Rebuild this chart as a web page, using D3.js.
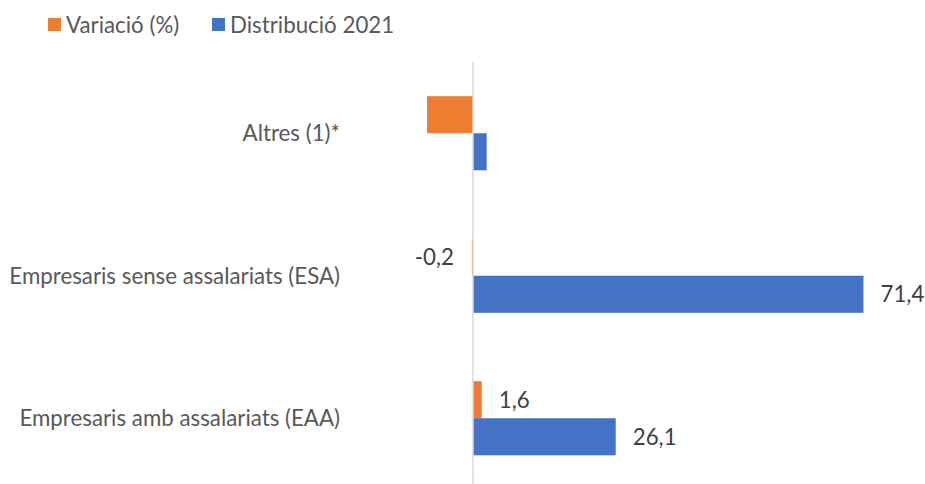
<!DOCTYPE html>
<html>
<head>
<meta charset="utf-8">
<script src="https://cdn.jsdelivr.net/npm/d3@7"></script>
<style>
  body { margin: 0; background: #fff; }
  svg { display: block; font-family: Lato, "Open Sans", sans-serif; }
</style>
</head>
<body>
<svg id="chart" width="925" height="484"></svg>
<script>
'use strict';

// data
var categories = ["Altres (1)*", "Empresaris sense assalariats (ESA)", "Empresaris amb assalariats (EAA)"];
var seriesNames = ["Variació (%)", "Distribució 2021"];
var variacio = [-8.4, -0.2, 1.6];
var distribucio = [2.5, 71.4, 26.1];
var variacioLabels = [null, "-0,2", "1,6"];
var distribucioLabels = [null, "71,4", "26,1"];
var colors = ["#ED7D31", "#4472C4"];

var svg = d3.select('#chart');

var rows = categories.map(function(c, i) {
  return {
    name: c,
    values: [
      { s: 0, v: variacio[i], label: variacioLabels[i] },
      { s: 1, v: distribucio[i], label: distribucioLabels[i] }
    ]
  };
});

var x = d3.scaleLinear().domain([-10, 80]).range([418.3, 910.5]);
var y = d3.scaleBand().domain(categories).range([62, 489.5])
  .paddingInner(0.48).paddingOuter(0.24);
var ySub = d3.scaleBand().domain([0, 1]).range([0, y.bandwidth()]);

// legend
var legend = svg.append("g").attr("class", "legend");
var legendX = [48, 212];
seriesNames.forEach(function(n, i) {
  legend.append("rect")
    .attr("x", legendX[i]).attr("y", 18)
    .attr("width", 13).attr("height", 13)
    .attr("fill", colors[i]);
  legend.append("text")
    .attr("x", legendX[i] + 18).attr("y", 25)
    .attr("dy", "0.35em")
    .attr("font-size", 18)
    .attr("fill", "#595959")
    .text(n);
});

// bars
var group = svg.selectAll("g.cat")
  .data(rows)
  .join("g")
    .attr("class", "cat")
    .attr("transform", d => `translate(0,${y(d.name)})`);

group.selectAll("rect")
  .data(d => d.values)
  .join("rect")
    .attr("x", d => x(Math.min(0, d.v)))
    .attr("y", d => ySub(d.s))
    .attr("width", d => Math.abs(x(d.v) - x(0)))
    .attr("height", ySub.bandwidth())
    .attr("fill", d => colors[d.s]);

// zero axis line
svg.append("line")
  .attr("x1", x(0)).attr("x2", x(0))
  .attr("y1", 62).attr("y2", 489.5)
  .attr("stroke", "#d9d9d9")
  .attr("stroke-width", 1.5);

// value labels
group.selectAll("text.val")
  .data(d => d.values.filter(v => v.label))
  .join("text")
    .attr("class", "val")
    .attr("x", d => d.v < 0 ? x(d.v) - 18 : x(d.v) + 17)
    .attr("y", d => ySub(d.s) + ySub.bandwidth() / 2)
    .attr("dy", "0.35em")
    .attr("text-anchor", d => d.v < 0 ? "end" : "start")
    .attr("font-size", 18)
    .attr("fill", "#404040")
    .text(d => d.label);

// category labels
var catLabels = svg.selectAll("text.cat")
  .data(categories)
  .join("text")
    .attr("class", "cat")
    .attr("x", 340)
    .attr("y", d => y(d) + y.bandwidth() / 2)
    .attr("dy", "0.35em")
    .attr("text-anchor", "end")
    .attr("font-size", 18)
    .attr("fill", "#595959")
    .text(d => d);

// fit font size so the longest label spans like the reference (~331px)
var w = catLabels.nodes()[1].getComputedTextLength();
var fs = 18 * 331 / w;
svg.selectAll("text").attr("font-size", fs);
</script>
</body>
</html>
